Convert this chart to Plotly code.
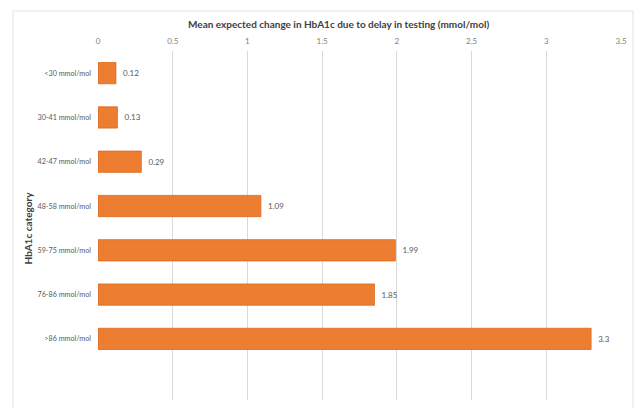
import plotly.graph_objects as go

categories = ["<30 mmol/mol", "30-41 mmol/mol", "42-47 mmol/mol", "48-58 mmol/mol",
              "59-75 mmol/mol", "76-86 mmol/mol", ">86 mmol/mol"]
mean_change = [0.12, 0.13, 0.29, 1.09, 1.99, 1.85, 3.3]
x_ticks = [0, 0.5, 1, 1.5, 2, 2.5, 3, 3.5]
x_tick_text = ["0", "0.5", "1", "1.5", "2", "2.5", "3", "3.5"]

W, H = 635, 408
L, R, T, B = 98, 14, 51, 8
FONT = "Lato, Open Sans, sans-serif"

fig = go.Figure(go.Bar(
    x=mean_change,
    y=categories,
    orientation="h",
    width=0.48,
    marker=dict(color="#ED7D31", line=dict(color="#D9691F", width=0.8)),
    text=[f"  {v:g}" for v in mean_change],
    textposition="outside",
    textfont=dict(family=FONT, size=8, color="#595959"),
    cliponaxis=False,
))

fig.update_layout(
    width=W, height=H,
    margin=dict(l=L, r=R, t=T, b=B),
    paper_bgcolor="white", plot_bgcolor="white",
    showlegend=False,
    font=dict(family=FONT),
    xaxis=dict(
        side="top", range=[0, 3.5], tickvals=x_ticks, ticktext=x_tick_text,
        showgrid=True, gridcolor="#D9D9D9", gridwidth=1, zeroline=False,
        showline=False, ticks="", ticklabelstandoff=4,
        tickfont=dict(family=FONT, size=8, color="#7F7F7F"),
    ),
    yaxis=dict(
        type="category", categoryorder="array", categoryarray=categories,
        range=[len(categories) + 0.38, -0.5],
        showgrid=False, zeroline=False, showline=False, ticks="",
        ticklabelstandoff=6,
        tickfont=dict(family=FONT, size=7.2, color="#595959"),
    ),
    annotations=[
        dict(text="<b>Mean expected change in HbA1c due to delay in testing (mmol/mol)</b>",
             xref="paper", yref="paper", x=(338 - L) / (W - L - R), y=1 + (T - 24) / (H - T - B),
             xanchor="center", yanchor="middle", showarrow=False,
             font=dict(family=FONT, size=10, color="#404040")),
        dict(text="<b>HbA1c category</b>",
             xref="paper", yref="paper", x=-(L - 27) / (W - L - R), y=0.5 + (225 - 228) / (H - T - B),
             xanchor="center", yanchor="middle", textangle=-90, showarrow=False,
             font=dict(family=FONT, size=10, color="#404040")),
    ],
    shapes=[
        dict(type="rect", xref="paper", yref="paper",
             x0=-(L - 13) / (W - L - R), x1=1 + (R - 2) / (W - L - R),
             y0=-(B + 10) / (H - T - B), y1=1 + (T - 11) / (H - T - B),
             line=dict(color="#E3E3E3", width=1), fillcolor="rgba(0,0,0,0)", layer="below"),
    ],
)

fig.write_html("out.html")
